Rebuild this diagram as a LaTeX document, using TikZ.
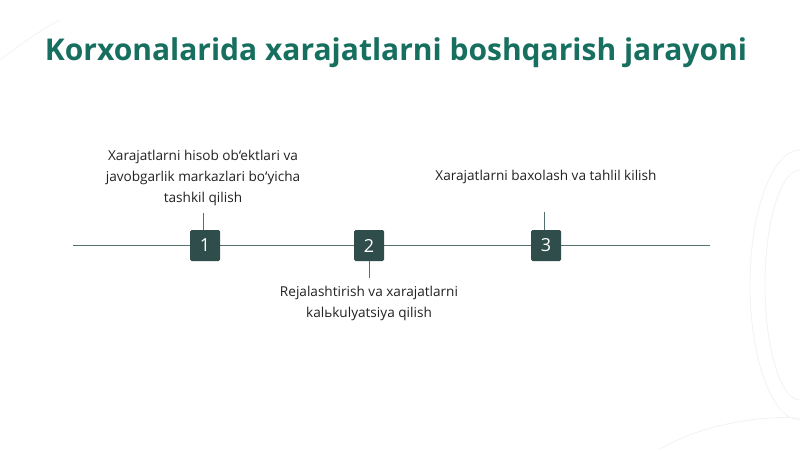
\documentclass[tikz,border=0pt]{standalone}
\usepackage{fontspec}
\setmainfont{Open Sans}
\definecolor{titlecol}{HTML}{17705F}
\definecolor{boxcol}{HTML}{2F4D4A}
\definecolor{linecol}{HTML}{52706E}
\definecolor{txtcol}{HTML}{222222}
\definecolor{decor}{HTML}{F0F4F3}
\begin{document}
\begin{tikzpicture}[x=1pt,y=-1pt,
  numbox/.style={fill=boxcol,minimum width=30pt,minimum height=31pt,inner sep=0pt,rounded corners=1.5pt,text=white,font=\fontsize{18}{20}\selectfont},
  lbl/.style={align=center,text=txtcol,font=\fontsize{13.6}{21}\selectfont,inner sep=0pt},
  tick/.style={draw=linecol,line width=0.8pt}]
\useasboundingbox (0,0) rectangle (800,449);
\fill[white] (0,0) rectangle (800,449);
% faint decorations
\draw[decor,line width=0.8pt] (800,150) arc[start angle=-90,end angle=-270,x radius=50,y radius=135];
\draw[decor,line width=0.8pt] (800,170) arc[start angle=-90,end angle=-270,x radius=35,y radius=115];
\draw[decor,line width=0.8pt] (660,449) .. controls (700,425) and (760,415) .. (800,418);
\draw[decor,line width=0.8pt] (0,60) .. controls (20,45) and (40,30) .. (60,20);
% title
\node[text=titlecol,font=\bfseries\fontsize{30}{32}\selectfont,inner sep=0pt] (title) at (396,53) {Korxonalarida xarajatlarni boshqarish jarayoni};
% timeline
\coordinate (L) at (73,245.5);
\coordinate (R) at (710,245.5);
\draw[linecol,line width=0.9pt] (L) -- (R);
\node[numbox] (b1) at (205,245.5) {1};
\node[numbox] (b2) at (369,245.5) {2};
\node[numbox] (b3) at (546,245.5) {3};
% labels
\node[lbl,anchor=south] (t1) at (203,206) {Xarajatlarni hisob ob‘ektlari va\\javobgarlik markazlari bo‘yicha\\tashkil qilish};
\node[lbl,anchor=north] (t2) at (369,286) {Rejalashtirish va xarajatlarni\\kalьkulyatsiya qilish};
\node[lbl] (t3) at (546,177) {Xarajatlarni baxolash va tahlil kilish};
% ticks
\coordinate (c1) at (203,213);
\coordinate (c2) at (369,278);
\coordinate (c3) at (544,212);
\draw[tick] (c1) -- (c1 |- b1.north);
\draw[tick] (c2) -- (c2 |- b2.south);
\draw[tick] (c3) -- (c3 |- b3.north);
\end{tikzpicture}
\end{document}
